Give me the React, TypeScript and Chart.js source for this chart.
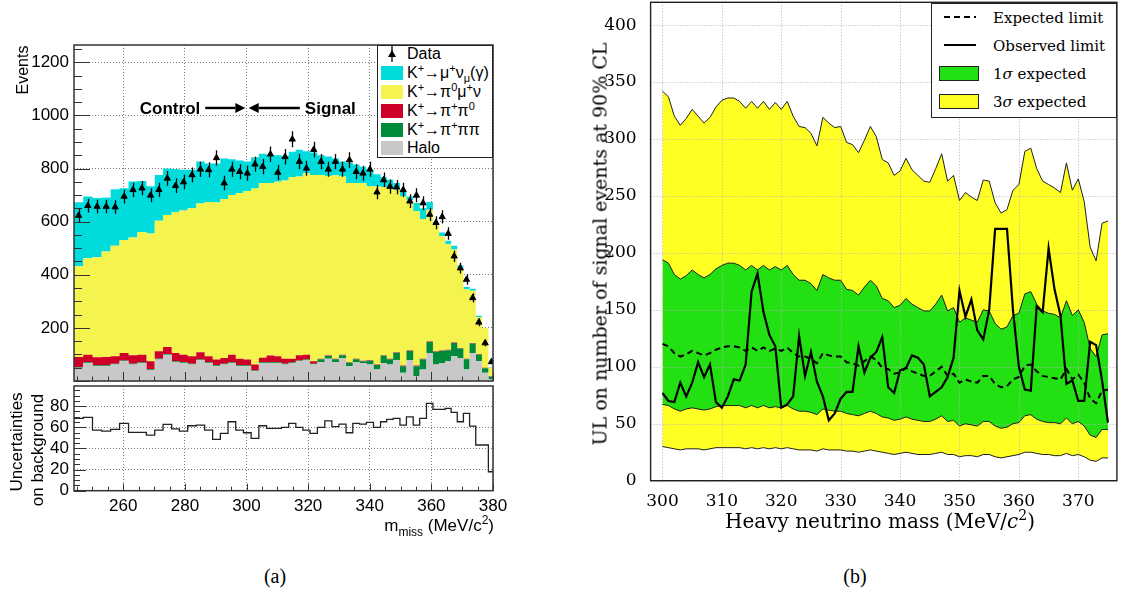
import React, { useEffect, useRef } from "react";
import { Chart, registerables } from "chart.js";

Chart.register(...registerables);

// ================= (a) missing-mass spectrum =================
const binEdges = [244, 247, 250, 253, 255.9, 258.8, 261.7, 264.6, 267.5, 270.2, 272.9, 275.7, 278.2, 280.9, 283.7, 286.4, 289, 291.5, 294, 296.5, 299, 301.5, 304, 306.5, 309, 311.3, 313.7, 316, 318.3, 320.6, 323, 325.4, 327.7, 330, 332.3, 334.5, 336.7, 338.9, 341.2, 343.5, 345.5, 347.6, 349.8, 351.9, 354.1, 356.2, 358.4, 360.5, 362.5, 364.5, 366.4, 368.4, 370.4, 372.4, 374.4, 376.4, 378.5, 380.5];

const haloCounts = [50, 68, 56, 56, 62, 74, 62, 68, 41, 81, 99, 71, 68, 62, 78, 68, 56, 62, 68, 56, 56, 37, 68, 68, 68, 62, 68, 74, 78, 62, 71, 84, 71, 87, 56, 71, 68, 62, 43, 68, 62, 78, 31, 78, 19, 43, 105, 62, 68, 74, 93, 87, 43, 105, 74, 31, 6];
const kpipipiCounts = [3, 3, 3, 3, 3, 3, 3, 3, 3, 3, 3, 3, 3, 3, 3, 3, 3, 3, 3, 3, 3, 3, 3, 3, 3, 3, 3, 3, 3, 3, 11, 11, 11, 10, 13, 11, 6, 14, 17, 27, 20, 28, 25, 35, 37, 39, 42, 48, 45, 42, 50, 35, 39, 36, 26, 17, 10];
const kpipi0Counts = [37, 28, 30, 31, 28, 28, 32, 28, 30, 28, 26, 31, 28, 28, 27, 22, 22, 22, 28, 25, 22, 22, 17, 25, 22, 19, 13, 20, 18, 9, 2, 2, 2, 2, 2, 2, 2, 2, 2, 2, 2, 2, 2, 2, 2, 2, 2, 2, 2, 2, 2, 2, 2, 2, 2, 2, 2];
const kmu3Counts = [342, 363, 377, 398, 416, 426, 443, 462, 481, 491, 497, 530, 543, 557, 560, 581, 591, 598, 601, 624, 634, 663, 657, 649, 657, 671, 684, 673, 683, 702, 692, 675, 691, 671, 674, 661, 669, 655, 671, 633, 642, 612, 637, 565, 582, 526, 496, 478, 430, 397, 350, 301, 261, 197, 138, 149, 32];
const kmu2Counts = [241, 233, 223, 203, 213, 195, 211, 192, 178, 173, 175, 163, 153, 145, 158, 145, 147, 153, 135, 122, 111, 117, 111, 105, 100, 93, 95, 101, 83, 84, 74, 73, 63, 56, 77, 70, 62, 61, 45, 38, 32, 25, 20, 15, 30, 40, 29, 6, 14, 13, 14, 10, 9, 7, 6, 1, 2];
const dataCounts = [623, 660, 657, 657, 655, 695, 720, 726, 699, 720, 763, 735, 749, 776, 797, 795, 840, 745, 797, 788, 782, 816, 807, 854, 785, 844, 910, 826, 801, 871, 826, 797, 826, 797, 832, 788, 782, 797, 711, 757, 732, 730, 720, 677, 699, 670, 627, 596, 618, 555, 470, 425, 382, 313, 221, 143, 72];
const bkgUncertainty = [68.3, 69.3, 57.3, 56.4, 58, 63.6, 55.1, 55.1, 52.6, 57.3, 62.7, 58.5, 56.4, 61.4, 62, 57.3, 48.5, 54.2, 65.2, 57.3, 54.8, 49.5, 61.4, 58.9, 58.9, 59.9, 63.6, 59.9, 57.3, 54.2, 59.9, 66.1, 60.5, 63, 54.8, 63.6, 63, 64.6, 59.9, 65.2, 67.4, 68.3, 62, 69.9, 62, 68.3, 82.5, 76.9, 76.9, 77.8, 74, 65.2, 73.1, 61.1, 43.2, 43.2, 17.9];

const mmissTicks = [260, 280, 300, 320, 340, 360, 380];
const eventsTicks = [0, 200, 400, 600, 800, 1000, 1200];
const uncertTicks = [0, 20, 40, 60, 80];

// ================= (b) upper limits =================
const hnlMass = [300, 301, 302, 303, 304, 305, 306, 307, 308, 309, 310, 311, 312, 313, 314, 315, 316, 317, 318, 319, 320, 321, 322, 323, 324, 325, 326, 327, 328, 329, 330, 331, 332, 333, 334, 335, 336, 337, 338, 339, 340, 341, 342, 343, 344, 345, 346, 347, 348, 349, 350, 351, 352, 353, 354, 355, 356, 357, 358, 359, 360, 361, 362, 363, 364, 365, 366, 367, 368, 369, 370, 371, 372, 373, 374, 375];
const observedLimit = [77, 70, 69, 86, 74, 86, 104, 91, 102, 69, 64, 74, 89, 88, 102, 166, 182, 148, 128, 118, 64, 67, 74, 127, 92, 113, 87, 74, 53, 59, 72, 78, 78, 118, 95, 108, 113, 126, 82, 77, 97, 99, 110, 108, 102, 74, 78, 82, 91, 108, 167, 144, 159, 132, 124, 150, 221, 221, 221, 150, 100, 80, 79, 153, 148, 204, 168, 145, 85, 88, 70, 70, 122, 119, 88, 51];
const expectedLimit = [120, 118, 112, 109, 111, 114, 112, 110, 112, 115, 117, 118, 118, 117, 114, 117, 114, 117, 114, 116, 114, 117, 112, 109, 109, 107, 103, 112, 110, 109, 109, 104, 103, 101, 105, 109, 106, 99, 98, 94, 95, 99, 96, 94, 92, 92, 96, 100, 92, 94, 86, 89, 87, 86, 92, 92, 85, 82, 83, 89, 91, 101, 102, 96, 92, 91, 90, 89, 98, 89, 93, 86, 72, 68, 79, 80];
const oneSigmaUp = [194, 191, 181, 177, 180, 185, 181, 178, 181, 186, 189, 191, 191, 189, 185, 189, 185, 189, 185, 188, 185, 189, 181, 176, 176, 173, 167, 181, 178, 176, 176, 168, 167, 163, 170, 176, 171, 160, 158, 152, 154, 160, 155, 152, 149, 149, 155, 163, 149, 152, 139, 143, 141, 139, 150, 149, 138, 133, 135, 145, 147, 164, 166, 155, 149, 147, 146, 143, 158, 145, 150, 139, 116, 109, 128, 129];
const oneSigmaDown = [67, 66, 63, 61, 63, 64, 63, 62, 63, 65, 66, 66, 66, 66, 64, 66, 64, 66, 64, 65, 64, 66, 63, 61, 61, 60, 58, 63, 62, 61, 61, 59, 58, 57, 59, 61, 59, 56, 55, 53, 54, 56, 54, 53, 52, 52, 54, 57, 52, 53, 48, 50, 49, 48, 52, 52, 48, 46, 47, 50, 51, 57, 58, 54, 52, 51, 51, 50, 55, 50, 52, 48, 40, 38, 45, 45];
const threeSigmaUp = [342, 337, 320, 312, 318, 326, 320, 314, 319, 328, 334, 336, 336, 333, 327, 333, 327, 333, 326, 332, 326, 333, 320, 311, 310, 305, 294, 319, 314, 310, 311, 297, 295, 288, 299, 311, 302, 282, 279, 268, 272, 283, 273, 268, 263, 262, 274, 287, 263, 268, 246, 253, 249, 246, 264, 263, 244, 235, 238, 255, 260, 289, 292, 274, 263, 260, 257, 253, 279, 255, 265, 245, 205, 193, 226, 228];
const threeSigmaDown = [30, 29, 28, 27, 28, 28, 28, 27, 28, 29, 29, 29, 29, 29, 28, 29, 28, 29, 28, 29, 28, 29, 28, 27, 27, 27, 26, 28, 27, 27, 27, 26, 26, 25, 26, 27, 26, 25, 24, 23, 24, 25, 24, 23, 23, 23, 24, 25, 23, 23, 21, 22, 22, 21, 23, 23, 21, 20, 21, 22, 23, 25, 25, 24, 23, 23, 22, 22, 24, 22, 23, 21, 18, 17, 20, 20];
const massTicks = [300, 310, 320, 330, 340, 350, 360, 370];
const ulTicks = [0, 50, 100, 150, 200, 250, 300, 350, 400];

// ================= styling =================
const SANS = '"Liberation Sans", Arial, Helvetica, sans-serif';
const SERIF = '"DejaVu Serif", serif';
const TIMES = '"Liberation Serif", "Times New Roman", serif';
const C_HALO = "#c8c8c8";
const C_K3PI = "#008b3a";
const C_K2PI = "#cf0027";
const C_KMU3 = "#f5f34d";
const C_KMU2 = "#00dcdc";
const C_GREEN = "#22e012";
const C_YELLOW = "#ffff24";

function histSteps(values: number[]) {
  const pts = values.map((v, i) => ({ x: binEdges[i], y: v }));
  pts.push({ x: binEdges[values.length], y: values[values.length - 1] });
  return pts;
}
function binCentres(values: number[]) {
  return values.map((v, i) => ({ x: (binEdges[i] + binEdges[i + 1]) / 2, y: v }));
}
function massPoints(values: number[]) {
  return hnlMass.map((m, i) => ({ x: m, y: values[i] }));
}
const fixTicks = (vals: number[]) => (s: any) => {
  s.ticks = vals.map((v) => ({ value: v }));
};
// fixed axis size, and no automatic label-overflow padding
const fitAxis = (size: number, horizontal: boolean) => (s: any) => {
  if (horizontal) s.height = size;
  else s.width = size;
  s.paddingTop = 0;
  s.paddingBottom = 0;
  s.paddingLeft = 0;
  s.paddingRight = 0;
};

// ROOT-like frame with inner tick marks
const rootFrame = {
  id: "rootFrame",
  afterDraw(chart: any, _a: any, o: any) {
    if (!o || !o.enabled) return;
    const { ctx, chartArea: a } = chart;
    const xs = chart.scales.x;
    const ys = chart.scales.y;
    ctx.save();
    ctx.strokeStyle = o.color;
    ctx.lineWidth = 1;
    ctx.beginPath();
    if (o.xMinor) {
      const n0 = Math.ceil(xs.min / o.xMinor - 1e-9);
      const n1 = Math.floor(xs.max / o.xMinor + 1e-9);
      for (let n = n0; n <= n1; n++) {
        const v = n * o.xMinor;
        const major = Math.abs(v / o.xMajor - Math.round(v / o.xMajor)) < 1e-6;
        const px = Math.round(xs.getPixelForValue(v)) + 0.5;
        ctx.moveTo(px, a.bottom);
        ctx.lineTo(px, a.bottom - (major ? o.xMajorLen : o.xMinorLen));
      }
    }
    if (o.yMinor) {
      const n0 = Math.ceil(ys.min / o.yMinor - 1e-9);
      const n1 = Math.floor(ys.max / o.yMinor + 1e-9);
      for (let n = n0; n <= n1; n++) {
        const v = n * o.yMinor;
        const major = Math.abs(v / o.yMajor - Math.round(v / o.yMajor)) < 1e-6;
        const py = Math.round(ys.getPixelForValue(v)) + 0.5;
        ctx.moveTo(a.left, py);
        ctx.lineTo(a.left + (major ? o.yMajorLen : o.yMinorLen), py);
      }
    }
    ctx.stroke();
    ctx.lineWidth = o.frameWidth;
    ctx.strokeRect(a.left, a.top, a.right - a.left, a.bottom - a.top);
    ctx.restore();
  },
};

// vertical Poisson error bars on the data markers
const poissonErrors = {
  id: "poissonErrors",
  afterDatasetsDraw(chart: any, _a: any, o: any) {
    if (!o || o.datasetIndex === undefined) return;
    const meta = chart.getDatasetMeta(o.datasetIndex);
    const ds = chart.data.datasets[o.datasetIndex];
    const ys = chart.scales[ds.yAxisID];
    const ctx = chart.ctx;
    ctx.save();
    ctx.strokeStyle = "#000";
    ctx.lineWidth = 1.3;
    ctx.beginPath();
    meta.data.forEach((el: any, i: number) => {
      const v = ds.data[i].y;
      const e = Math.sqrt(v);
      const px = Math.round(el.x) + 0.5;
      ctx.moveTo(px, ys.getPixelForValue(v + e));
      ctx.lineTo(px, ys.getPixelForValue(Math.max(0, v - e)));
    });
    ctx.stroke();
    ctx.restore();
  },
};

// "Control -> <- Signal" annotation
const regionArrows = {
  id: "regionArrows",
  afterDatasetsDraw(chart: any, _a: any, o: any) {
    if (!o || !o.items) return;
    const { ctx } = chart;
    const xs = chart.scales.x;
    const ys = chart.scales.y;
    ctx.save();
    ctx.fillStyle = "#000";
    ctx.strokeStyle = "#000";
    ctx.lineWidth = 2.4;
    ctx.font = `bold 17px ${SANS}`;
    ctx.textBaseline = "middle";
    for (const it of o.items) {
      const x0 = xs.getPixelForValue(it.from);
      const x1 = xs.getPixelForValue(it.to);
      const py = ys.getPixelForValue(it.y);
      const dir = Math.sign(x1 - x0);
      const head = 10;
      ctx.beginPath();
      ctx.moveTo(x0, py);
      ctx.lineTo(x1 - dir * head, py);
      ctx.stroke();
      ctx.beginPath();
      ctx.moveTo(x1, py);
      ctx.lineTo(x1 - dir * head, py - 5);
      ctx.lineTo(x1 - dir * head, py + 5);
      ctx.closePath();
      ctx.fill();
      ctx.textAlign = dir > 0 ? "right" : "left";
      ctx.fillText(it.label, x0 - dir * 5, py + 1);
    }
    ctx.restore();
  },
};

// dotted grid drawn above the filled bands (after the filler)
const overlayGrid = {
  id: "overlayGrid",
  beforeDatasetsDraw(chart: any, _a: any, o: any) {
    if (!o || !o.enabled) return;
    const { ctx, chartArea: a } = chart;
    const xs = chart.scales.x;
    const ys = chart.scales.y;
    ctx.save();
    ctx.strokeStyle = o.color;
    ctx.lineWidth = 1;
    ctx.setLineDash(o.dash);
    ctx.beginPath();
    xs.ticks.forEach((t: any) => {
      const px = Math.round(xs.getPixelForValue(t.value)) + 0.5;
      ctx.moveTo(px, a.top);
      ctx.lineTo(px, a.bottom);
    });
    ys.ticks.forEach((t: any) => {
      const py = Math.round(ys.getPixelForValue(t.value)) + 0.5;
      ctx.moveTo(a.left, py);
      ctx.lineTo(a.right, py);
    });
    ctx.stroke();
    ctx.restore();
  },
};

const leftGrid = { color: "#7a7a7a", drawTicks: false, lineWidth: 1 };
const leftBorder = { display: false, dash: [1, 2] };

function spectrumConfig(): any {
  const stack = (label: string, values: number[], color: string, fill: any) => ({
    label,
    data: histSteps(values),
    stepped: true,
    fill,
    backgroundColor: color,
    borderColor: "rgba(0,0,0,0)",
    borderWidth: 0,
    pointRadius: 0,
    yAxisID: "y",
  });
  return {
    type: "line",
    data: {
      datasets: [
        {
          label: "Data",
          data: binCentres(dataCounts),
          showLine: false,
          pointStyle: "triangle",
          pointRadius: 3.6,
          backgroundColor: "#000",
          borderColor: "#000",
          borderWidth: 1,
          yAxisID: "yData",
          order: -1,
        },
        stack("Halo", haloCounts, C_HALO, "origin"),
        stack("K+→π+ππ", kpipipiCounts, C_K3PI, "-1"),
        stack("K+→π+π0", kpipi0Counts, C_K2PI, "-1"),
        stack("K+→π0μ+ν", kmu3Counts, C_KMU3, "-1"),
        stack("K+→μ+νμ(γ)", kmu2Counts, C_KMU2, "-1"),
      ],
    },
    options: {
      responsive: false,
      animation: false,
      devicePixelRatio: 1,
      layout: { padding: { top: 45, right: 17, left: 0, bottom: 0 } },
      plugins: {
        legend: { display: false },
        tooltip: { enabled: false },
        rootFrame: { enabled: true, color: "#333", frameWidth: 1.5, xMinor: 5, xMajor: 20, xMajorLen: 9, xMinorLen: 4.5, yMinor: 50, yMajor: 200, yMajorLen: 16, yMinorLen: 8 },
        poissonErrors: { datasetIndex: 0 },
        regionArrows: {
          items: [
            { label: "Control", from: 286.6, to: 299.6, y: 1028 },
            { label: "Signal", from: 317.3, to: 300.7, y: 1028 },
          ],
        },
      },
      scales: {
        x: {
          type: "linear",
          min: 244,
          max: 380,
          afterBuildTicks: fixTicks(mmissTicks),
          ticks: { display: false },
          grid: leftGrid,
          border: leftBorder,
          afterFit: fitAxis(1, true),
        },
        y: {
          type: "linear",
          stacked: true,
          min: 0,
          max: 1265,
          afterBuildTicks: fixTicks(eventsTicks),
          ticks: {
            font: { family: SANS, size: 17 },
            color: "#000",
            padding: 5,
            callback: (v: any) => (v === 0 ? "" : String(v)),
          },
          grid: leftGrid,
          border: leftBorder,
          afterFit: fitAxis(74, false),
        },
        yData: { type: "linear", display: false, min: 0, max: 1265 },
      },
    },
    plugins: [rootFrame, poissonErrors, regionArrows],
  };
}

function uncertaintyConfig(): any {
  return {
    type: "line",
    data: {
      datasets: [
        {
          label: "Uncertainties on background",
          data: histSteps(bkgUncertainty),
          stepped: true,
          fill: false,
          borderColor: "#222",
          borderWidth: 1.3,
          pointRadius: 0,
        },
      ],
    },
    options: {
      responsive: false,
      animation: false,
      devicePixelRatio: 1,
      layout: { padding: { top: 6, right: 17, left: 0, bottom: 0 } },
      plugins: {
        legend: { display: false },
        tooltip: { enabled: false },
        rootFrame: { enabled: true, color: "#333", frameWidth: 1.5, xMinor: 5, xMajor: 20, xMajorLen: 7, xMinorLen: 4, yMinor: 5, yMajor: 20, yMajorLen: 12, yMinorLen: 6 },
      },
      scales: {
        x: {
          type: "linear",
          min: 244,
          max: 380,
          afterBuildTicks: fixTicks(mmissTicks),
          ticks: { font: { family: SANS, size: 17 }, color: "#000", padding: 5, maxRotation: 0 },
          grid: leftGrid,
          border: leftBorder,
          afterFit: fitAxis(49.3, true),
        },
        y: {
          type: "linear",
          min: 0,
          max: 99,
          afterBuildTicks: fixTicks(uncertTicks),
          ticks: { font: { family: SANS, size: 17 }, color: "#000", padding: 5 },
          grid: leftGrid,
          border: leftBorder,
          afterFit: fitAxis(74, false),
        },
      },
    },
    plugins: [rootFrame],
  };
}

function limitConfig(): any {
  const edge = "#1e1e1e";
  return {
    type: "line",
    data: {
      datasets: [
        { label: "Observed limit", data: massPoints(observedLimit), borderColor: "#000", borderWidth: 2.2, pointRadius: 0, fill: false },
        { label: "Expected limit", data: massPoints(expectedLimit), borderColor: "#000", borderWidth: 2, borderDash: [6, 4], pointRadius: 0, fill: false },
        { label: "1σ expected", data: massPoints(oneSigmaUp), borderColor: edge, borderWidth: 1, pointRadius: 0, backgroundColor: C_GREEN, fill: { target: 3 } },
        { label: "1σ lower", data: massPoints(oneSigmaDown), borderColor: edge, borderWidth: 1, pointRadius: 0, fill: false },
        { label: "3σ expected", data: massPoints(threeSigmaUp), borderColor: edge, borderWidth: 1, pointRadius: 0, backgroundColor: C_YELLOW, fill: { target: 5 } },
        { label: "3σ lower", data: massPoints(threeSigmaDown), borderColor: edge, borderWidth: 1, pointRadius: 0, fill: false },
      ],
    },
    options: {
      responsive: false,
      animation: false,
      devicePixelRatio: 1,
      layout: { padding: { top: 2.3, right: 4.1, left: 0, bottom: 0 } },
      plugins: {
        legend: { display: false },
        tooltip: { enabled: false },
        filler: { drawTime: "beforeDatasetsDraw" },
        overlayGrid: { enabled: true, color: "#b4b4b4", dash: [1, 2] },
        rootFrame: { enabled: true, color: "#222", frameWidth: 1.4 },
      },
      scales: {
        x: {
          type: "linear",
          min: 298,
          max: 376.5,
          afterBuildTicks: fixTicks(massTicks),
          ticks: { font: { family: SERIF, size: 17 }, color: "#000", padding: 3, maxRotation: 0 },
          grid: { display: false },
          border: { display: false },
          afterFit: fitAxis(64.3, true),
        },
        y: {
          type: "linear",
          min: 0,
          max: 420,
          afterBuildTicks: fixTicks(ulTicks),
          ticks: { font: { family: SERIF, size: 17 }, color: "#000", padding: 6 },
          grid: { display: false },
          border: { display: false },
          afterFit: fitAxis(90.6, false),
        },
      },
    },
    plugins: [overlayGrid, rootFrame],
  };
}

function ChartCanvas(props: { make: () => any; left: number; top: number; width: number; height: number }) {
  const ref = useRef<HTMLCanvasElement>(null);
  useEffect(() => {
    const chart = new Chart(ref.current as HTMLCanvasElement, props.make());
    return () => chart.destroy();
  }, []);
  return (
    <canvas
      ref={ref}
      width={props.width}
      height={props.height}
      style={{ position: "absolute", left: props.left, top: props.top, width: props.width, height: props.height }}
    />
  );
}

const sup = (t: string) => <span style={{ fontSize: 11, position: "relative", top: -6 }}>{t}</span>;
const sub = (t: string) => <span style={{ fontSize: 11, position: "relative", top: 4 }}>{t}</span>;

function RotText(props: { cx: number; cy: number; font: string; size: number; children: any }) {
  return (
    <div
      style={{
        position: "absolute",
        left: props.cx,
        top: props.cy,
        transform: "translate(-50%, -50%) rotate(-90deg)",
        whiteSpace: "nowrap",
        fontFamily: props.font,
        fontSize: props.size,
        lineHeight: 1,
        color: "#000",
      }}
    >
      {props.children}
    </div>
  );
}

function LeftLegend() {
  const rows: { c: number; patch?: string; marker?: boolean; label: any }[] = [
    { c: 53.3, marker: true, label: "Data" },
    { c: 72.1, patch: C_KMU2, label: <>K{sup("+")}→μ{sup("+")}ν{sub("μ")}(γ)</> },
    { c: 90.9, patch: C_KMU3, label: <>K{sup("+")}→π{sup("0")}μ{sup("+")}ν</> },
    { c: 109.7, patch: C_K2PI, label: <>K{sup("+")}→π{sup("+")}π{sup("0")}</> },
    { c: 128.5, patch: C_K3PI, label: <>K{sup("+")}→π{sup("+")}ππ</> },
    { c: 147.3, patch: C_HALO, label: "Halo" },
  ];
  return (
    <div
      style={{
        position: "absolute",
        left: 377,
        top: 45,
        width: 116,
        height: 113,
        border: "1px solid #222",
        boxSizing: "border-box",
        background: "#fff",
        fontFamily: SANS,
        fontSize: 16,
        color: "#000",
      }}
    >
      {rows.map((r, i) => (
        <React.Fragment key={i}>
          {r.marker ? (
            <svg width="22" height="18" style={{ position: "absolute", left: 3, top: r.c - 45 - 9 }}>
              <line x1="11" y1="1" x2="11" y2="17" stroke="#000" strokeWidth="1.3" />
              <polygon points="11,5 15,12 7,12" fill="#000" />
            </svg>
          ) : (
            <div style={{ position: "absolute", left: 3, top: r.c - 45 - 7, width: 22, height: 14, background: r.patch }} />
          )}
          <div style={{ position: "absolute", left: 29, top: r.c - 45 - 9, lineHeight: "18px", whiteSpace: "nowrap" }}>{r.label}</div>
        </React.Fragment>
      ))}
    </div>
  );
}

function RightLegend() {
  const top = 3;
  const rows = [
    { c: 17, kind: "dash", label: "Expected limit" },
    { c: 45, kind: "line", label: "Observed limit" },
    { c: 73, kind: "green", label: <>1<i>σ</i> expected</> },
    { c: 101, kind: "yellow", label: <>3<i>σ</i> expected</> },
  ];
  return (
    <div
      style={{
        position: "absolute",
        left: 931,
        top,
        width: 186,
        height: 115,
        border: "1px solid #222",
        boxSizing: "border-box",
        background: "#fff",
        fontFamily: SERIF,
        fontSize: 15,
        color: "#000",
      }}
    >
      {rows.map((r, i) => (
        <React.Fragment key={i}>
          {r.kind === "dash" || r.kind === "line" ? (
            <svg width="40" height="6" style={{ position: "absolute", left: 8, top: r.c - top - 4 }}>
              <line x1="4" y1="3" x2="36" y2="3" stroke="#000" strokeWidth="2" strokeDasharray={r.kind === "dash" ? "6 4" : undefined} />
            </svg>
          ) : (
            <div
              style={{
                position: "absolute",
                left: 7,
                top: r.c - top - 8,
                width: 40,
                height: 15,
                boxSizing: "border-box",
                border: "1px solid #222",
                background: r.kind === "green" ? C_GREEN : C_YELLOW,
              }}
            />
          )}
          <div style={{ position: "absolute", left: 61, top: r.c - top - 10, lineHeight: "20px", whiteSpace: "nowrap" }}>{r.label}</div>
        </React.Fragment>
      ))}
    </div>
  );
}

export default function App() {
  return (
    <div style={{ position: "absolute", left: 0, top: 0, width: 1121, height: 595, background: "#fff", overflow: "hidden" }}>
      <ChartCanvas make={spectrumConfig} left={0} top={0} width={510} height={386} />
      <ChartCanvas make={uncertaintyConfig} left={0} top={380} width={510} height={160} />
      <ChartCanvas make={limitConfig} left={560} top={0} width={561} height={545} />

      <LeftLegend />
      <RightLegend />

      <RotText cx={23} cy={70} font={SANS} size={16}>Events</RotText>
      <RotText cx={16} cy={442} font={SANS} size={17}>Uncertainties</RotText>
      <RotText cx={37} cy={450} font={SANS} size={17}>on background</RotText>
      <div style={{ position: "absolute", right: 1121 - 494, top: 515, fontFamily: SANS, fontSize: 17, lineHeight: "22px", whiteSpace: "nowrap", color: "#000" }}>
        m<span style={{ fontSize: 12, position: "relative", top: 5 }}>miss</span> (MeV/c<span style={{ fontSize: 12, position: "relative", top: -7 }}>2</span>)
      </div>

      <RotText cx={600} cy={244} font={SERIF} size={19}>UL on number of signal events at 90% CL</RotText>
      <div style={{ position: "absolute", left: 880, top: 522, transform: "translate(-50%, -50%)", fontFamily: SERIF, fontSize: 20, lineHeight: "24px", whiteSpace: "nowrap", color: "#000" }}>
        Heavy neutrino mass (MeV/<i>c</i><span style={{ fontSize: 14, position: "relative", top: -8 }}>2</span>)
      </div>

      <div style={{ position: "absolute", left: 275, top: 576, transform: "translate(-50%, -50%)", fontFamily: TIMES, fontSize: 20, lineHeight: 1, color: "#000" }}>(a)</div>
      <div style={{ position: "absolute", left: 855, top: 576, transform: "translate(-50%, -50%)", fontFamily: TIMES, fontSize: 20, lineHeight: 1, color: "#000" }}>(b)</div>
    </div>
  );
}
